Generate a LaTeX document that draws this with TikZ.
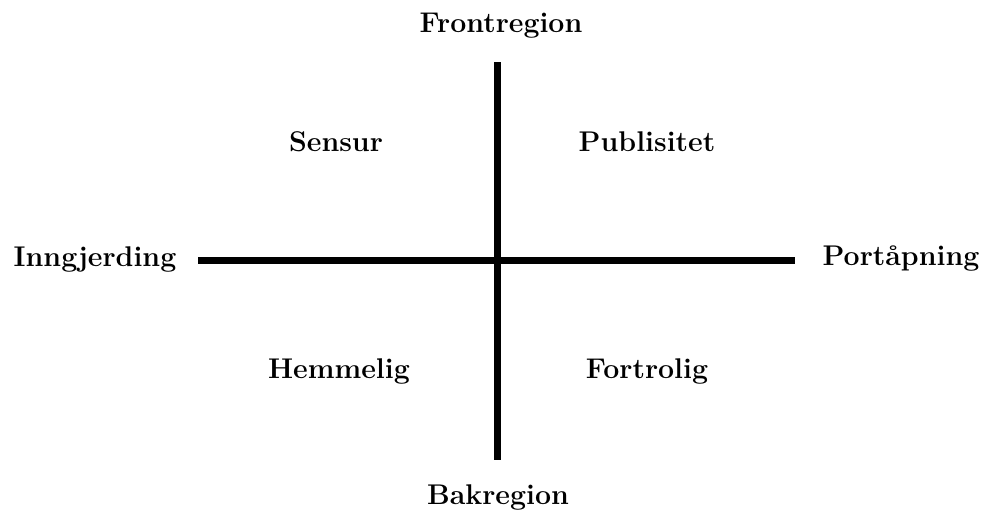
\documentclass[tikz,border=0pt]{standalone}
\begin{document}
\begin{tikzpicture}[x=1pt,y=-1pt,
  lbl/.style={font=\fontsize{28.5}{32}\selectfont\bfseries, inner sep=0pt},
  axis/.style={line width=7pt}]
\useasboundingbox[fill=white] (0,0) rectangle (987,514);
\coordinate (top) at (497,62);
\coordinate (bot) at (497,460);
\coordinate (left) at (198,260);
\coordinate (right) at (795,260);
\draw[axis] (top) -- (bot);
\draw[axis] (left) -- (right);
\node[lbl] (front) at (501,26) {Frontregion};
\node[lbl] (bak) at (498,497) {Bakregion};
\node[lbl] (inn) at (95,259) {Inngjerding};
\node[lbl] (port) at (901,259) {Portåpning};
\node[lbl] (sensur) at (336,142) {Sensur};
\node[lbl] (publ) at (647,142) {Publisitet};
\node[lbl] (hemm) at (339,371) {Hemmelig};
\node[lbl] (fort) at (647,371) {Fortrolig};
\end{tikzpicture}
\end{document}
